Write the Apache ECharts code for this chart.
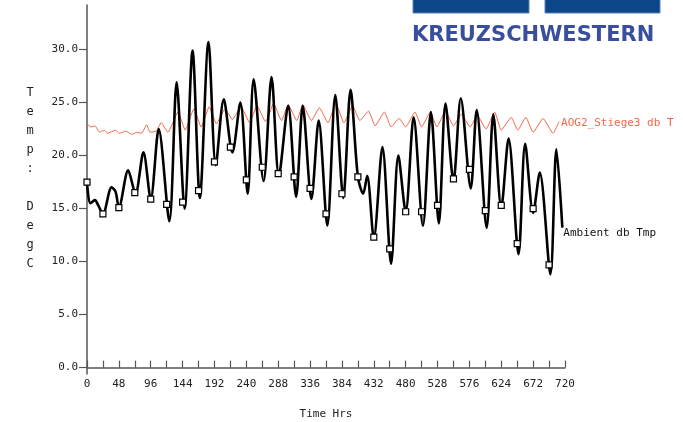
<!DOCTYPE html>
<html>
<head>
<meta charset="utf-8">
<script src="https://cdn.jsdelivr.net/npm/echarts@6/dist/echarts.min.js"></script>
<style>
html,body{margin:0;padding:0;background:#fff;}
#chart{width:683px;height:422px;}
</style>
</head>
<body>
<div id="chart"></div>
<script>
// Ambient db Tmp (hours, °C)
const ambHours = [0,5,12,17,24,37,43,48,62,73,85,96,108,124,135,147,159,170,183,194,206,219,231,242,251,266,278,289,303,315,325,338,349,362,374,386,397,408,416,422,432,445,458,469,480,492,506,518,530,540,552,563,578,587,602,612,624,635,650,660,672,682,698,707,716];
const ambTemps = [17.5,15.5,15.8,15.3,14.5,17.0,16.6,15.1,18.6,16.4,20.3,15.9,22.5,13.8,26.9,15.0,29.9,16.0,30.7,19.1,25.3,20.3,25.0,16.4,27.2,17.6,27.4,18.1,24.7,16.1,24.7,15.9,23.3,13.4,25.7,16.0,26.2,18.0,16.4,18.1,12.2,20.8,9.8,20.0,14.7,23.6,13.4,24.1,13.6,24.9,17.6,25.4,16.9,24.3,13.2,23.9,15.1,21.6,10.7,21.1,14.6,18.4,8.8,20.6,13.2];
// square markers on the ambient curve (every 24 h)
const markHours = [0,24,48,72,96,120,144,168,192,216,240,264,288,312,336,360,384,408,432,456,480,504,528,552,576,600,624,648,672,696];
const markTemps = [17.5,14.5,15.1,16.5,15.9,15.4,15.6,16.7,19.4,20.8,17.7,18.9,18.3,18.0,16.9,14.5,16.4,18.0,12.3,11.2,14.7,14.7,15.3,17.8,18.7,14.8,15.3,11.7,15.0,9.7];
// AOG2_Stiege3 db T (hours, °C)
const aogHours = [0,6,12,19,26,31,43,49,58,68,75,82,90,95,104,112,116,122,137,148,161,172,184,195,208,219,232,245,256,269,281,293,303,316,325,338,350,363,375,387,400,411,424,434,448,458,470,480,494,504,517,527,540,552,564,577,588,601,614,624,639,649,661,672,687,702,711];
const aogTemps = [23.0,22.7,22.8,22.2,22.4,22.1,22.4,22.1,22.3,22.0,22.2,22.1,22.9,22.2,22.3,23.1,22.7,22.2,24.1,22.4,24.4,22.7,24.6,23.0,24.4,23.4,24.6,23.1,24.7,23.2,24.9,23.3,24.8,23.3,24.8,23.3,24.5,23.1,24.9,23.1,24.7,23.3,24.2,22.8,24.1,22.7,23.5,22.7,24.1,22.7,24.1,22.7,24.2,22.8,23.9,22.7,23.8,22.5,24.1,22.4,23.6,22.4,23.6,22.2,23.5,22.1,23.2];
const yTicks = [0,5,10,15,20,25,30];
const xLabels = [0,48,96,144,192,240,288,336,384,432,480,528,576,624,672,720];
const names = ['Ambient db Tmp','AOG2_Stiege3 db T'];
const yName = 'Temp: DegC';
const xName = 'Time Hrs';
const logoText = 'KREUZSCHWESTERN';

const FONT = '"DejaVu Sans Mono", "Liberation Mono", monospace';
const chart = echarts.init(document.getElementById('chart'), null, {renderer:'canvas'});
const ambData = ambHours.map((h,i)=>[h, ambTemps[i]]);
const markData = markHours.map((h,i)=>[h, markTemps[i]]);
const aogData = aogHours.map((h,i)=>[h, aogTemps[i]]);

chart.setOption({
  animation:false,
  backgroundColor:'#fff',
  grid:{left:87, right:118, top:5, bottom:48, containLabel:false, outerBoundsMode:'none'},
  xAxis:{
    type:'value', min:0, max:720, interval:24,
    name:xName, nameLocation:'middle', nameGap:35,
    nameTextStyle:{fontFamily:FONT, fontSize:11, color:'#222'},
    axisLine:{show:true, lineStyle:{color:'#555', width:1.5}},
    axisTick:{show:true, inside:true, length:7, lineStyle:{color:'#555', width:1.2}},
    axisLabel:{customValues:xLabels, margin:5, fontFamily:FONT, fontSize:11, color:'#222'},
    splitLine:{show:false}
  },
  yAxis:{
    type:'value', min:-0.6, max:34.2,
    axisLine:{show:true, onZero:false, lineStyle:{color:'#555', width:1.5}},
    axisTick:{show:true, customValues:yTicks, length:8, lineStyle:{color:'#555', width:1.2}},
    axisLabel:{customValues:yTicks, margin:9, fontFamily:FONT, fontSize:11, color:'#222',
      formatter:v=>v.toFixed(1)},
    splitLine:{show:false}
  },
  series:[
    {
      name:names[1], type:'line', data:aogData, smooth:0.15,
      symbol:'none', z:2,
      lineStyle:{color:'#f2674a', width:1},
      endLabel:{show:true, formatter:names[1], distance:2, offset:[0,2], fontFamily:FONT, fontSize:11, color:'#f2674a'}
    },
    {
      name:names[0], type:'line', data:ambData, smooth:0.3,
      symbol:'none', z:3,
      lineStyle:{color:'#000', width:2.6},
      endLabel:{show:true, formatter:names[0], distance:1, offset:[0,5], fontFamily:FONT, fontSize:11, color:'#111'}
    },
    {
      name:'markers', type:'scatter', data:markData, symbol:'rect', symbolSize:6, z:4,
      itemStyle:{color:'#fff', borderColor:'#000', borderWidth:1.2, opacity:1}
    }
  ],
  graphic:[
    {type:'text', x:30, y:178, style:{text:yName.split('').join('\n'), x:0, y:0,
      align:'center', verticalAlign:'middle', lineHeight:19, font:'12px ' + FONT, fill:'#222'}},
    {type:'rect', shape:{x:413, y:-2, width:116, height:15}, style:{fill:'#0b4688', stroke:'#5c82b8', lineWidth:1}},
    {type:'rect', shape:{x:545, y:-2, width:115, height:15}, style:{fill:'#0b4688', stroke:'#5c82b8', lineWidth:1}},
    {type:'text', x:412, y:36, style:{text:logoText, align:'left', verticalAlign:'middle',
      font:'bold 21px "DejaVu Sans", sans-serif', fill:'#3a4e9e'}}
  ]
});
</script>
</body>
</html>
